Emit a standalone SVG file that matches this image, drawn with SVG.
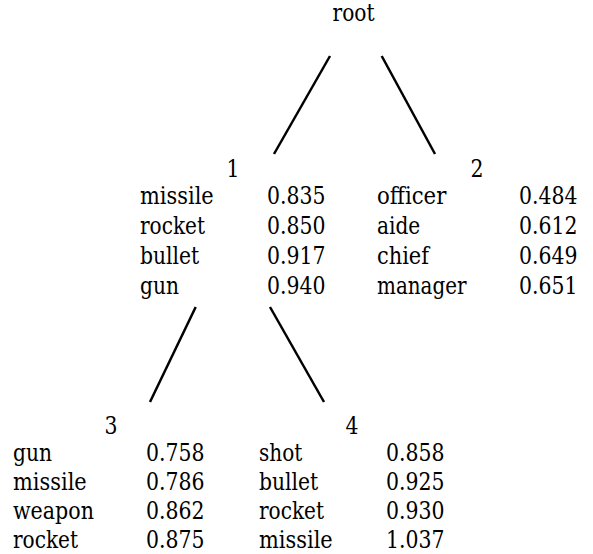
<svg xmlns="http://www.w3.org/2000/svg" width="593" height="554" viewBox="0 0 593 554">
<style>
text{font-family:"DejaVu Serif",serif;font-size:24px;fill:#000}
.c{text-anchor:middle}
line{stroke:#000;stroke-width:2.5;stroke-linecap:butt}
</style>
<rect width="593" height="554" fill="#fff"/>
<g id="connectors">
<line x1="330" y1="56" x2="274" y2="154"/>
<line x1="381.7" y1="56" x2="435" y2="154"/>
<line x1="195.7" y1="307" x2="150" y2="402"/>
<line x1="270" y1="307" x2="324" y2="402"/>
</g>
<g id="root"><text x="353.5" y="21" class="c" textLength="42" lengthAdjust="spacingAndGlyphs">root</text></g>
<g id="node1">
<text x="233" y="177" class="c" textLength="13" lengthAdjust="spacingAndGlyphs">1</text>
<text x="140" y="204" textLength="73.7" lengthAdjust="spacingAndGlyphs">missile</text><text x="267" y="204" textLength="58.5" lengthAdjust="spacingAndGlyphs">0.835</text>
<text x="140" y="234" textLength="65" lengthAdjust="spacingAndGlyphs">rocket</text><text x="267" y="234" textLength="58.5" lengthAdjust="spacingAndGlyphs">0.850</text>
<text x="140" y="264" textLength="59.2" lengthAdjust="spacingAndGlyphs">bullet</text><text x="267" y="264" textLength="58.5" lengthAdjust="spacingAndGlyphs">0.917</text>
<text x="140" y="294" textLength="39" lengthAdjust="spacingAndGlyphs">gun</text><text x="267" y="294" textLength="58.5" lengthAdjust="spacingAndGlyphs">0.940</text>
</g>
<g id="node2">
<text x="477" y="177" class="c" textLength="13" lengthAdjust="spacingAndGlyphs">2</text>
<text x="377" y="204" textLength="69.3" lengthAdjust="spacingAndGlyphs">officer</text><text x="519" y="204" textLength="58.5" lengthAdjust="spacingAndGlyphs">0.484</text>
<text x="377" y="234" textLength="43.3" lengthAdjust="spacingAndGlyphs">aide</text><text x="519" y="234" textLength="58.5" lengthAdjust="spacingAndGlyphs">0.612</text>
<text x="377" y="264" textLength="52" lengthAdjust="spacingAndGlyphs">chief</text><text x="519" y="264" textLength="58.5" lengthAdjust="spacingAndGlyphs">0.649</text>
<text x="377" y="294" textLength="89.5" lengthAdjust="spacingAndGlyphs">manager</text><text x="519" y="294" textLength="58.5" lengthAdjust="spacingAndGlyphs">0.651</text>
</g>
<g id="node3">
<text x="111" y="434" class="c" textLength="13" lengthAdjust="spacingAndGlyphs">3</text>
<text x="13" y="461" textLength="39" lengthAdjust="spacingAndGlyphs">gun</text><text x="146" y="461" textLength="58.5" lengthAdjust="spacingAndGlyphs">0.758</text>
<text x="13" y="490" textLength="73.7" lengthAdjust="spacingAndGlyphs">missile</text><text x="146" y="490" textLength="58.5" lengthAdjust="spacingAndGlyphs">0.786</text>
<text x="13" y="519" textLength="80.9" lengthAdjust="spacingAndGlyphs">weapon</text><text x="146" y="519" textLength="58.5" lengthAdjust="spacingAndGlyphs">0.862</text>
<text x="13" y="548" textLength="65" lengthAdjust="spacingAndGlyphs">rocket</text><text x="146" y="548" textLength="58.5" lengthAdjust="spacingAndGlyphs">0.875</text>
</g>
<g id="node4">
<text x="352" y="434" class="c" textLength="13" lengthAdjust="spacingAndGlyphs">4</text>
<text x="259" y="461" textLength="43.3" lengthAdjust="spacingAndGlyphs">shot</text><text x="386" y="461" textLength="58.5" lengthAdjust="spacingAndGlyphs">0.858</text>
<text x="259" y="490" textLength="59.2" lengthAdjust="spacingAndGlyphs">bullet</text><text x="386" y="490" textLength="58.5" lengthAdjust="spacingAndGlyphs">0.925</text>
<text x="259" y="519" textLength="65" lengthAdjust="spacingAndGlyphs">rocket</text><text x="386" y="519" textLength="58.5" lengthAdjust="spacingAndGlyphs">0.930</text>
<text x="259" y="548" textLength="73.7" lengthAdjust="spacingAndGlyphs">missile</text><text x="386" y="548" textLength="58.5" lengthAdjust="spacingAndGlyphs">1.037</text>
</g>
</svg>
